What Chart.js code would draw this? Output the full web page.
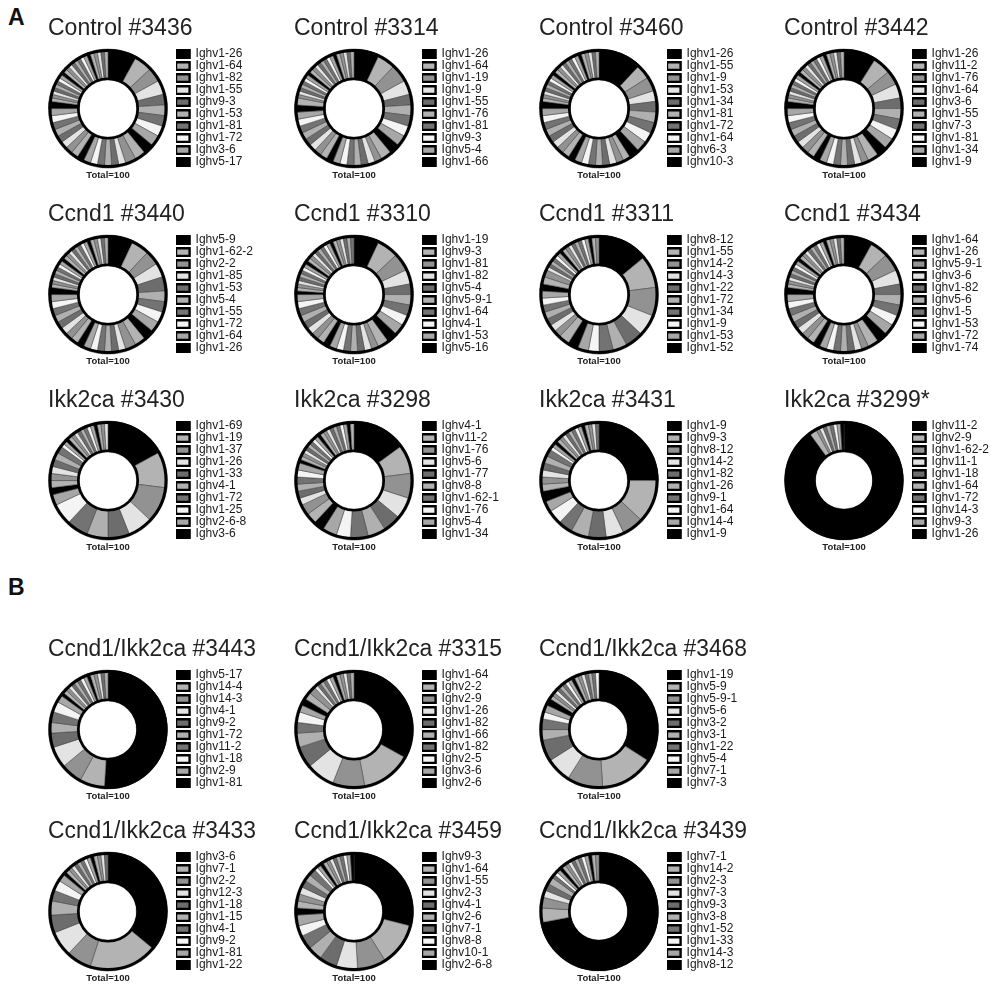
<!DOCTYPE html>
<html lang="en">
<head>
<meta charset="UTF-8">
<title>Ighv usage per mouse</title>
<script src="https://cdn.jsdelivr.net/npm/chart.js"></script>
<style>
  body { margin: 0; background: #fff; width: 992px; height: 986px; position: relative; overflow: hidden;
         font-family: 'Liberation Sans', Arial, sans-serif; }
  .tag { position: absolute; font-weight: bold; font-size: 23px; line-height: 23px; color: #111; }
  canvas { position: absolute; }
</style>
</head>
<body>
<div class="tag" style="left:8px;top:6px">A</div>
<div class="tag" style="left:8px;top:576px">B</div>
<script>
// clone counts per Ighv gene, biggest first, clockwise from 12 o'clock (Total=100 each)
const ctl3436Genes = ['Ighv1-26','Ighv1-64','Ighv1-82','Ighv1-55','Ighv9-3','Ighv1-53','Ighv1-81','Ighv1-72','Ighv3-6','Ighv5-17'];
const ctl3436Counts = [8,5,4,4,3,3,3,3,3, 3,3,3,2,2,2,2,2,2, 2,2,2,2,2,2,2,2,2, 2,1,1,1,1,1,1,1,1, 1,1,1,1,1,1,1,1,1,1,1,1,1,1,1];

const ctl3314Genes = ['Ighv1-26','Ighv1-64','Ighv1-19','Ighv1-9','Ighv1-55','Ighv1-76','Ighv1-81','Ighv9-3','Ighv5-4','Ighv1-66'];
const ctl3314Counts = [7,5,5,4,3,3,3,3,3, 3,3,2,2,2,2,2,2,2, 2,2,2,2,2,2,2,2,2, 2,2,1,1,1,1,1,1,1, 1,1,1,1,1,1,1,1,1,1,1,1,1,1,1];

const ctl3460Genes = ['Ighv1-26','Ighv1-55','Ighv1-9','Ighv1-53','Ighv1-34','Ighv1-81','Ighv1-72','Ighv1-64','Ighv6-3','Ighv10-3'];
const ctl3460Counts = [12,4,4,3,3,3,3,3,3, 3,2,2,2,2,2,2,2,2, 2,2,2,2,2,2,2,2,2, 2,1,1,1,1,1,1,1,1, 1,1,1,1,1,1,1,1,1,1,1,1,1,1,1];

const ctl3442Genes = ['Ighv1-26','Ighv11-2','Ighv1-76','Ighv1-64','Ighv3-6','Ighv1-55','Ighv7-3','Ighv1-81','Ighv1-34','Ighv1-9'];
const ctl3442Counts = [9,5,4,4,3,3,3,3,3, 3,3,2,2,2,2,2,2,2, 2,2,2,2,2,2,2,2,2, 2,1,1,1,1,1,1,1,1, 1,1,1,1,1,1,1,1,1,1,1,1,1,1,1];

const ccn3440Genes = ['Ighv5-9','Ighv1-62-2','Ighv2-2','Ighv1-85','Ighv1-53','Ighv5-4','Ighv1-55','Ighv1-72','Ighv1-64','Ighv1-26'];
const ccn3440Counts = [7,5,4,4,4,3,3,3,3, 3,3,3,2,2,2,2,2,2, 2,2,2,2,2,2,2,2,2, 2,1,1,1,1,1,1,1,1, 1,1,1,1,1,1,1,1,1,1,1,1,1,1,1];

const ccn3310Genes = ['Ighv1-19','Ighv9-3','Ighv1-81','Ighv1-82','Ighv5-4','Ighv5-9-1','Ighv1-64','Ighv4-1','Ighv1-53','Ighv5-16'];
const ccn3310Counts = [7,6,5,4,3,3,3,3,3, 3,3,2,2,2,2,2,2,2, 2,2,2,2,2,2,2,2,2, 1,1,1,1,1,1,1,1,1,1, 1,1,1,1,1,1,1,1,1,1,1,1,1,1,1];

const ccn3311Genes = ['Ighv8-12','Ighv1-55','Ighv14-2','Ighv14-3','Ighv1-22','Ighv1-72','Ighv1-34','Ighv1-9','Ighv1-53','Ighv1-52'];
const ccn3311Counts = [14,9,8,6,5,4,4,3,3, 3,3,2,2,2,2,2,2,2, 2,2,2,1,1,1,1,1,1, 1,1,1,1,1,1,1,1,1,1,1,1];

const ccn3434Genes = ['Ighv1-64','Ighv1-26','Ighv5-9-1','Ighv3-6','Ighv1-82','Ighv5-6','Ighv1-5','Ighv1-53','Ighv1-72','Ighv1-74'];
const ccn3434Counts = [8,5,5,4,3,3,3,3,3, 3,3,2,2,2,2,2,2,2, 2,2,2,2,2,2,2,2,2, 2,1,1,1,1,1,1,1,1, 1,1,1,1,1,1,1,1,1,1,1,1,1,1,1];

const ikk3430Genes = ['Ighv1-69','Ighv1-19','Ighv1-37','Ighv1-26','Ighv1-33','Ighv4-1','Ighv1-72','Ighv1-25','Ighv2-6-8','Ighv3-6'];
const ikk3430Counts = [17,10,10,7,6,6,6,6,3,2, 2,2,2,2,2,2, 1,1,1,1,1,1,1,1,1,1,1,1,1,1,1];

const ikk3298Genes = ['Ighv4-1','Ighv11-2','Ighv1-76','Ighv5-6','Ighv1-77','Ighv8-8','Ighv1-62-1','Ighv1-76','Ighv5-4','Ighv1-34'];
const ikk3298Counts = [15,8,7,6,5,5,5,4,4,3, 3,3,2,2,2,2,2,2, 1,1,1,1,1,1,1,1,1,1,1,1,1,1,1,1,1,1,1,1];

const ikk3431Genes = ['Ighv1-9','Ighv9-3','Ighv8-12','Ighv14-2','Ighv1-82','Ighv1-26','Ighv9-1','Ighv1-64','Ighv14-4','Ighv1-9'];
const ikk3431Counts = [25,12,6,5,5,5,4,4,3,3, 2,2,2,2,2,2, 1,1,1,1,1,1,1,1,1,1,1,1,1,1,1,1];

const ikk3299Genes = ['Ighv11-2','Ighv2-9','Ighv1-62-2','Ighv11-1','Ighv1-18','Ighv1-64','Ighv1-72','Ighv14-3','Ighv9-3','Ighv1-26'];
const ikk3299Counts = [90,2,1,1,1,1,1,1,1,1];

const dbl3443Genes = ['Ighv5-17','Ighv14-4','Ighv14-3','Ighv4-1','Ighv9-2','Ighv1-72','Ighv11-2','Ighv1-18','Ighv2-9','Ighv1-81'];
const dbl3443Counts = [51,7,6,6,4,3,3,3,2,1, 1,1,1,1,1,1,1,1,1,1,1,1,1,1];

const dbl3315Genes = ['Ighv1-64','Ighv2-2','Ighv2-9','Ighv1-26','Ighv1-82','Ighv1-66','Ighv1-82','Ighv2-5','Ighv3-6','Ighv2-6'];
const dbl3315Counts = [33,14,9,8,6,4,3,3,2,2, 2,2,1,1,1,1,1,1,1,1,1,1,1,1];

const dbl3468Genes = ['Ighv1-19','Ighv5-9','Ighv5-9-1','Ighv5-6','Ighv3-2','Ighv3-1','Ighv1-22','Ighv5-4','Ighv7-1','Ighv7-3'];
const dbl3468Counts = [34,15,10,7,6,3,3,2,2,2, 1,1,1,1,1,1,1,1,1,1,1,1,1,1,1,1];

const dbl3433Genes = ['Ighv3-6','Ighv7-1','Ighv2-2','Ighv12-3','Ighv1-18','Ighv1-15','Ighv4-1','Ighv9-2','Ighv1-81','Ighv1-22'];
const dbl3433Counts = [36,19,7,7,5,4,3,3,2,1, 1,1,1,1,1,1,1,1,1,1,1,1,1];

const dbl3459Genes = ['Ighv9-3','Ighv1-64','Ighv1-55','Ighv2-3','Ighv4-1','Ighv2-6','Ighv7-1','Ighv8-8','Ighv10-1','Ighv2-6-8'];
const dbl3459Counts = [29,12,8,6,5,4,4,3,3,2, 2,2,2,2,2,2, 1,1,1,1,1,1,1,1,1,1,1,1];

const dbl3439Genes = ['Ighv7-1','Ighv14-2','Ighv2-3','Ighv7-3','Ighv9-3','Ighv3-8','Ighv1-52','Ighv1-33','Ighv14-3','Ighv8-12'];
const dbl3439Counts = [72,4,3,2,2,2,1,1,1,1, 1,1,1,1,1,1,1,1,1,1,1];

// slice fills repeat every 9 genes
const shades = ['#000000','#b3b3b3','#929292','#e3e3e3','#6d6d6d','#b0b0b0','#737373','#f4f4f4','#a7a7a7'];

const FONT = "'Liberation Sans', Arial, Helvetica, sans-serif";
const colX = [48, 294, 539, 784];
const rowA = [15, 201, 387];
const rowB = [636, 818];

const panels = [
  ['Control #3436', ctl3436Genes, ctl3436Counts, colX[0], rowA[0]],
  ['Control #3314', ctl3314Genes, ctl3314Counts, colX[1], rowA[0]],
  ['Control #3460', ctl3460Genes, ctl3460Counts, colX[2], rowA[0]],
  ['Control #3442', ctl3442Genes, ctl3442Counts, colX[3], rowA[0]],
  ['Ccnd1 #3440', ccn3440Genes, ccn3440Counts, colX[0], rowA[1]],
  ['Ccnd1 #3310', ccn3310Genes, ccn3310Counts, colX[1], rowA[1]],
  ['Ccnd1 #3311', ccn3311Genes, ccn3311Counts, colX[2], rowA[1]],
  ['Ccnd1 #3434', ccn3434Genes, ccn3434Counts, colX[3], rowA[1]],
  ['Ikk2ca #3430', ikk3430Genes, ikk3430Counts, colX[0], rowA[2]],
  ['Ikk2ca #3298', ikk3298Genes, ikk3298Counts, colX[1], rowA[2]],
  ['Ikk2ca #3431', ikk3431Genes, ikk3431Counts, colX[2], rowA[2]],
  ['Ikk2ca #3299*', ikk3299Genes, ikk3299Counts, colX[3], rowA[2]],
  ['Ccnd1/Ikk2ca #3443', dbl3443Genes, dbl3443Counts, colX[0], rowB[0]],
  ['Ccnd1/Ikk2ca #3315', dbl3315Genes, dbl3315Counts, colX[1], rowB[0]],
  ['Ccnd1/Ikk2ca #3468', dbl3468Genes, dbl3468Counts, colX[2], rowB[0]],
  ['Ccnd1/Ikk2ca #3433', dbl3433Genes, dbl3433Counts, colX[0], rowB[1]],
  ['Ccnd1/Ikk2ca #3459', dbl3459Genes, dbl3459Counts, colX[1], rowB[1]],
  ['Ccnd1/Ikk2ca #3439', dbl3439Genes, dbl3439Counts, colX[2], rowB[1]]
];

// fixed legend column so every donut sits at the left edge of its panel
const legendSlot = {
  id: 'legendSlot',
  beforeInit(chart) {
    const fit = chart.legend.fit;
    chart.legend.fit = function () {
      fit.call(this);
      this.width = 88;
    };
  },
  afterLayout(chart) {
    chart.legend.left += 8;
    chart.legend.right += 8;
  }
};

// thick black rim inside and out, plus the total under the ring
const ringOutline = {
  id: 'ringOutline',
  afterDatasetsDraw(chart) {
    const arc = chart.getDatasetMeta(0).data[0];
    const ctx = chart.ctx;
    const total = chart.data.datasets[0].data.reduce((a, b) => a + b, 0);
    ctx.save();
    ctx.strokeStyle = '#000';
    ctx.lineWidth = 3;
    ctx.beginPath();
    ctx.arc(arc.x, arc.y, arc.outerRadius - 1.5, 0, Math.PI * 2);
    ctx.stroke();
    ctx.lineWidth = 2.6;
    ctx.beginPath();
    ctx.arc(arc.x, arc.y, arc.innerRadius + 1.2, 0, Math.PI * 2);
    ctx.stroke();
    ctx.fillStyle = '#222';
    ctx.font = 'bold 9.5px ' + FONT;
    ctx.textAlign = 'center';
    ctx.textBaseline = 'middle';
    ctx.fillText('Total=' + total, arc.x, arc.y + arc.outerRadius + 7);
    ctx.restore();
  }
};

const baseLabels = Chart.overrides.doughnut.plugins.legend.labels.generateLabels;

panels.forEach(([title, genes, counts, left, top]) => {
  const canvas = document.createElement('canvas');
  canvas.width = 208;
  canvas.height = 170;
  canvas.style.left = left + 'px';
  canvas.style.top = top + 'px';
  document.body.appendChild(canvas);

  new Chart(canvas, {
    type: 'doughnut',
    data: {
      labels: genes,
      datasets: [{
        data: counts,
        backgroundColor: c => shades[c.dataIndex % shades.length],
        borderColor: '#3a3a3a',
        borderWidth: 0.5
      }]
    },
    options: {
      responsive: false,
      animation: false,
      devicePixelRatio: 1,
      events: [],
      radius: 59.5,
      cutout: '48%',
      rotation: 0,
      layout: { padding: { bottom: 16 } },
      plugins: {
        tooltip: { enabled: false },
        title: {
          display: true,
          text: title,
          align: 'start',
          color: '#222',
          font: { family: FONT, size: 23, weight: 'normal' },
          padding: { top: 0, bottom: 5.5 }
        },
        legend: {
          position: 'right',
          align: 'start',
          fullSize: false,
          labels: {
            boxWidth: 13.6,
            boxHeight: 7.6,
            padding: 0,
            color: '#1a1a1a',
            font: { family: FONT, size: 12 },
            generateLabels: chart => baseLabels(chart).slice(0, 10).map(item =>
              Object.assign(item, { lineWidth: 2.4, strokeStyle: '#000' }))
          }
        }
      }
    },
    plugins: [legendSlot, ringOutline]
  });
});
</script>
</body>
</html>
